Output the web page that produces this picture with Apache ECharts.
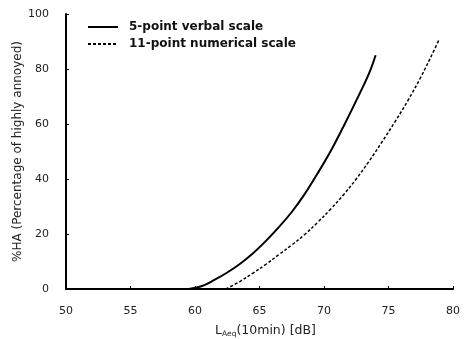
<!DOCTYPE html>
<html>
<head>
<meta charset="utf-8">
<script src="https://cdn.jsdelivr.net/npm/echarts@6/dist/echarts.min.js"></script>
<style>
html,body{margin:0;padding:0;background:#fff;}
#chart{width:464px;height:339px;}
</style>
</head>
<body>
<div id="chart"></div>
<script>
var seriesNames = ['5-point verbal scale', '11-point numerical scale'];
var levelsVerbal = [59.5, 60.5, 61.5, 62.5, 63.5, 64.5, 65.5, 66.5, 67.5, 68.5, 69.5, 70.5, 71.5, 72.5, 73.5, 74.0];
var haVerbal     = [0, 1.0, 3.3, 6.0, 9.2, 13.0, 17.5, 22.5, 28.0, 34.5, 42.0, 50.0, 59.0, 68.5, 78.5, 85.0];
var levelsNumerical = [62.4, 63.5, 64.5, 65.5, 66.5, 67.5, 68.5, 69.5, 70.5, 71.5, 72.5, 73.5, 74.5, 75.5, 76.5, 77.5, 78.5, 78.9];
var haNumerical     = [0, 2.8, 5.8, 9.0, 12.5, 16.0, 19.8, 24.2, 29.0, 34.2, 40.0, 46.5, 53.5, 60.8, 68.5, 77.0, 86.5, 90.5];
var xTicks = [50, 55, 60, 65, 70, 75, 80];
var yTicks = [0, 20, 40, 60, 80, 100];

function pairs(xs, ys) { return xs.map(function (x, i) { return [x, ys[i]]; }); }

var font = 'DejaVu Sans';
var chart = echarts.init(document.getElementById('chart'), null, {renderer: 'canvas'});
chart.setOption({
  animation: false,
  backgroundColor: '#fff',
  grid: {left: 66, right: 11, top: 14, bottom: 50, containLabel: false, outerBoundsMode: 'none'},
  legend: {
    orient: 'vertical',
    left: 82, top: 16,
    itemWidth: 30, itemHeight: 14, itemGap: 5,
    itemStyle: {opacity: 0},
    textStyle: {fontFamily: font, fontSize: 12, fontWeight: 'bold', color: '#111', padding: [0, 0, 0, 6]},
    data: seriesNames
  },
  xAxis: {
    type: 'value', min: xTicks[0], max: xTicks[xTicks.length - 1], interval: 5,
    name: '{m|L}{s|Aeq}{m|(10min) [dB]}',
    nameLocation: 'middle', nameGap: 34,
    nameTextStyle: {
      padding: [0, 0, 0, 12],
      rich: {
        m: {fontFamily: font, fontSize: 12.5, color: '#222'},
        s: {fontFamily: font, fontSize: 7.5, color: '#222', verticalAlign: 'bottom', padding: [7, 0, 0, 0]}
      }
    },
    axisLine: {lineStyle: {color: '#000', width: 2}},
    axisTick: {inside: true, length: 3, lineStyle: {color: '#000', width: 1}},
    axisLabel: {fontFamily: font, fontSize: 11, color: '#222', margin: 17},
    splitLine: {show: false}
  },
  yAxis: {
    type: 'value', min: yTicks[0], max: yTicks[yTicks.length - 1], interval: 20,
    name: '%HA (Percentage of highly annoyed)',
    nameLocation: 'middle', nameGap: 42, nameMoveOverlap: false,
    nameTextStyle: {fontFamily: font, fontSize: 12, color: '#222'},
    axisLine: {show: true, lineStyle: {color: '#000', width: 2}},
    axisTick: {show: true, inside: true, length: 3, lineStyle: {color: '#000', width: 1}},
    axisLabel: {fontFamily: font, fontSize: 11, color: '#222', margin: 17},
    splitLine: {show: false}
  },
  series: [
    {
      name: seriesNames[0], type: 'line', data: pairs(levelsVerbal, haVerbal),
      symbol: 'none', smooth: 0.4,
      lineStyle: {color: '#000', width: 2, type: 'solid'},
      itemStyle: {color: '#000'}
    },
    {
      name: seriesNames[1], type: 'line', data: pairs(levelsNumerical, haNumerical),
      symbol: 'none', smooth: 0.4,
      lineStyle: {color: '#000', width: 1.5, type: [3, 2]},
      itemStyle: {color: '#000'}
    }
  ]
});
</script>
</body>
</html>
